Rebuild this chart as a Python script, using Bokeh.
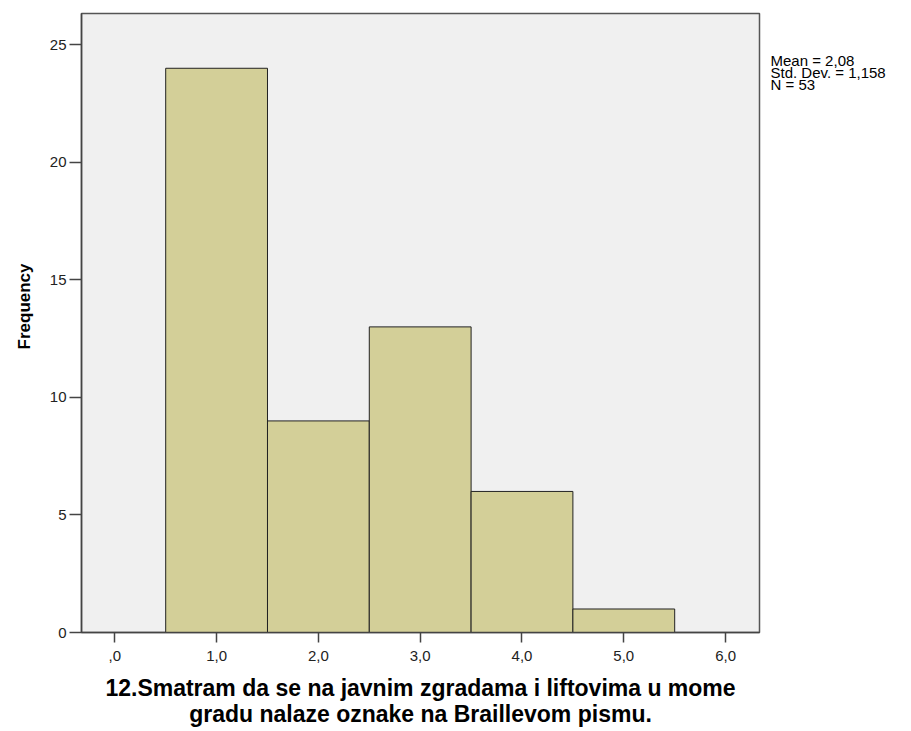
from bokeh.plotting import figure
from bokeh.models import Range1d, FixedTicker, Label, LinearAxis
from bokeh.embed import file_html
from bokeh.resources import INLINE

# ---- data ----
bin_centers = [1.0, 2.0, 3.0, 4.0, 5.0]
frequencies = [24, 9, 13, 6, 1]
bin_width = 1.0
x_ticks = [0, 1, 2, 3, 4, 5, 6]
x_tick_labels = [",0", "1,0", "2,0", "3,0", "4,0", "5,0", "6,0"]
y_ticks = [0, 5, 10, 15, 20, 25]
stats_lines = ["Mean = 2,08", "Std. Dev. = 1,158", "N = 53"]
x_label = ("12.Smatram da se na javnim zgradama i liftovima u mome\n"
           "gradu nalaze oznake na Braillevom pismu.")
title_tail = "na Braillevom pismu."
y_label = "Frequency"

FONT = "Liberation Sans"
x_min, x_max = -0.327, 6.333
y_min, y_max = 0.0, 26.33
px_per_y = 620.0 / (y_max - y_min)

p = figure(width=905, height=729, output_backend="svg", toolbar_location=None,
           x_range=Range1d(x_min, x_max), y_range=Range1d(y_min, y_max),
           min_border_left=81, min_border_right=146, min_border_top=13,
           min_border_bottom=96)

p.background_fill_color = "#F0F0F0"
p.border_fill_color = "white"
p.outline_line_color = "#555555"
p.outline_line_width = 1.5
p.grid.visible = False

p.vbar(x=bin_centers, top=frequencies, width=bin_width, bottom=0,
       fill_color="#D3CF98", line_color="#222222", line_width=1)

# axes
p.xaxis.ticker = FixedTicker(ticks=x_ticks)
p.xaxis.major_label_overrides = {t: l for t, l in zip(x_ticks, x_tick_labels)}
p.yaxis.ticker = FixedTicker(ticks=y_ticks)
for ax in (p.xaxis, p.yaxis):
    ax.minor_tick_line_color = None
    ax.major_tick_in = 0
    ax.axis_line_color = "#444444"
    ax.axis_line_width = 1.5
    ax.major_tick_line_color = "#444444"
    ax.major_tick_line_width = 1.5
    ax.major_label_text_font = FONT
    ax.major_label_text_font_size = "15px"
    ax.major_label_text_color = "#222222"
p.xaxis.major_tick_out = 10
p.xaxis.major_label_standoff = 8
p.yaxis.major_tick_out = 12
p.yaxis.major_label_standoff = 3

p.yaxis.axis_label = "\u00a0" * 7 + y_label
p.yaxis.axis_label_text_font = FONT
p.yaxis.axis_label_text_font_style = "bold"
p.yaxis.axis_label_text_font_size = "17px"
p.yaxis.axis_label_text_color = "black"
p.yaxis.axis_label_standoff = 13

p.xaxis.axis_label = x_label
p.xaxis.axis_label_text_font = FONT
p.xaxis.axis_label_text_font_style = "bold"
p.xaxis.axis_label_text_font_size = "23px"
p.xaxis.axis_label_text_line_height = 1.0
p.xaxis.axis_label_text_color = "black"
p.xaxis.axis_label_text_align = "center"
p.xaxis.axis_label_standoff = 11

# statistics text, as a right-hand axis with labels only
line_px = 12.0
first_line_y = y_max - 47.0 / px_per_y
stats_y = [round(first_line_y - i * line_px / px_per_y, 3) for i in range(len(stats_lines))]
stats_axis = LinearAxis(ticker=FixedTicker(ticks=stats_y),
                        major_label_overrides={y: s for y, s in zip(stats_y, stats_lines)},
                        axis_line_color=None, major_tick_line_color=None,
                        minor_tick_line_color=None, major_tick_out=0, major_tick_in=0,
                        major_label_standoff=11, major_label_text_font=FONT,
                        major_label_text_font_size="15px",
                        major_label_text_color="black")
p.add_layout(stats_axis, "right")

# cut-off title tail at the very top
x_mid = (x_min + x_max) / 2
p.add_layout(Label(x=x_mid, y=y_max + 4.0 / px_per_y, text=title_tail,
                   text_align="center", text_baseline="bottom",
                   text_font=FONT, text_font_style="bold",
                   text_font_size="20px", text_color="black"))

open("out.html", "w").write(file_html(p, INLINE))
